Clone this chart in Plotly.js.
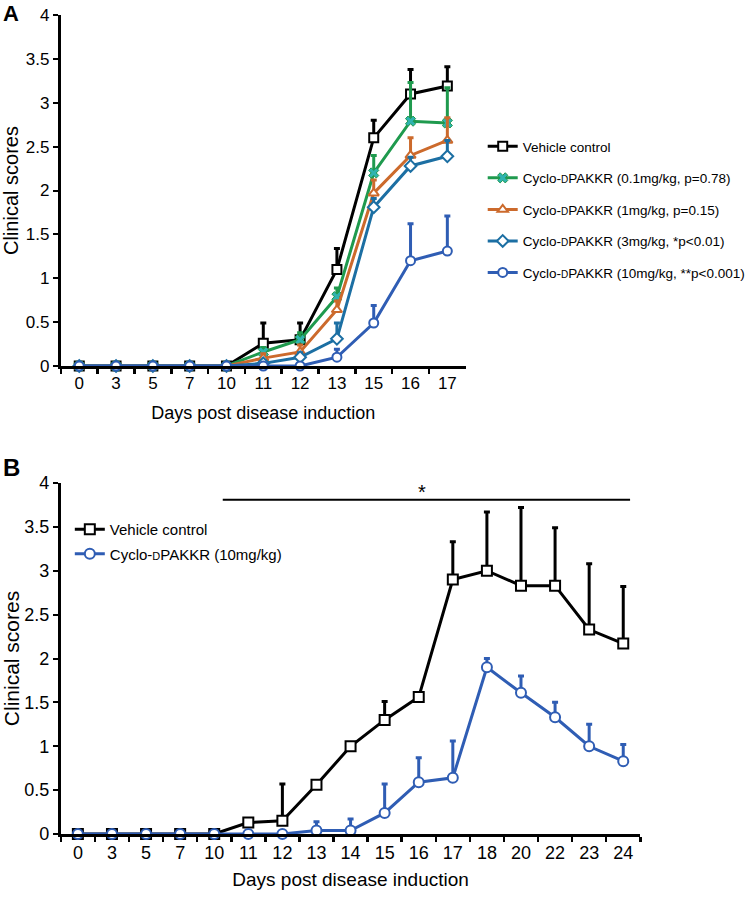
<!DOCTYPE html>
<html>
<head>
<meta charset="utf-8">
<script src="https://cdn.plot.ly/plotly-3.0.1.min.js"></script>
<style>html,body{margin:0;padding:0;background:#fff;}#chart{width:750px;height:902px;}</style>
</head>
<body>
<div id="chart"></div>
<script>
// ---- Panel A data ----
const daysA = ['0','3','5','7','10','11','12','13','15','16','17'];
const vehicleA = [0,0,0,0,0,0.26,0.30,1.10,2.60,3.10,3.19];
const vehicleAErr = [0,0,0,0,0,0.23,0.19,0.24,0.20,0.28,0.22];
const dose01A = [0,0,0,0,0,0.16,0.30,0.79,2.20,2.79,2.77];
const dose01AErr = [0,0,0,0,0,0.05,0.08,0.10,0.20,0.44,0.40];
const dose1A = [0,0,0,0,0,0.09,0.16,0.64,1.97,2.40,2.57];
const dose1AErr = [0,0,0,0,0,0.05,0.08,0.10,0.15,0.20,0.26];
const dose3A = [0,0,0,0,0,0.03,0.10,0.31,1.81,2.28,2.39];
const dose3AErr = [0,0,0,0,0,0.02,0.05,0.18,0.10,0.10,0.18];
const dose10A = [0,0,0,0,0,0,0,0.10,0.49,1.20,1.31];
const dose10AErr = [0,0,0,0,0,0,0,0.09,0.20,0.42,0.40];
const namesA = [
  'Vehicle control',
  "Cyclo-<span style='font-size:10px'>D</span>PAKKR (0.1mg/kg, p=0.78)",
  "Cyclo-<span style='font-size:10px'>D</span>PAKKR (1mg/kg, p=0.15)",
  "Cyclo-<span style='font-size:10px'>D</span>PAKKR (3mg/kg, *p<0.01)",
  "Cyclo-<span style='font-size:10px'>D</span>PAKKR (10mg/kg, **p<0.001)"
];

// ---- Panel B data ----
const daysB = ['0','3','5','7','10','11','12','13','14','15','16','17','18','20','22','23','24'];
const vehicleB = [0,0,0,0,0,0.13,0.15,0.56,1.00,1.30,1.56,2.90,3.00,2.83,2.83,2.33,2.17];
const vehicleBErr = [0,0,0,0,0,0,0.42,0,0,0.21,0,0.43,0.67,0.89,0.66,0.75,0.65];
const dose10B = [0,0,0,0,0,0,0,0.04,0.04,0.24,0.59,0.64,1.90,1.61,1.33,1.00,0.83];
const dose10BErr = [0,0,0,0,0,0,0,0.10,0.13,0.33,0.28,0.42,0.10,0.19,0.17,0.25,0.19];
const namesB = ['Vehicle control', "Cyclo-<span style='font-size:11px'>D</span>PAKKR (10mg/kg)"];

const FONT = 'Liberation Sans, Arial, sans-serif';
const zeros = n => new Array(n).fill(0);

function tr(x, y, err, name, color, symbol, fill, xa, ya, leg, grp, lineColor, size, lw) {
  return {
    x: x, y: y, name: name, type: 'scatter', mode: 'lines+markers',
    xaxis: xa, yaxis: ya, legend: leg, legendgroup: grp,
    line: {color: color, width: 3},
    marker: {symbol: symbol, size: size || 9, color: fill, line: {color: lineColor || color, width: lw || 2}},
    error_y: {type: 'data', symmetric: false, array: err, arrayminus: zeros(err.length),
              color: color, thickness: 3, width: 3},
    cliponaxis: false
  };
}

const data = [
  tr(daysA, vehicleA, vehicleAErr, namesA[0], '#000000', 'square', '#ffffff', 'x', 'y', 'legend', 'a0'),
  tr(daysA, dose01A, dose01AErr, namesA[1], '#1f9a4e', 'x', '#2fb3b0', 'x', 'y', 'legend', 'a1', '#1f9a4e', 9, 1),
  tr(daysA, dose1A, dose1AErr, namesA[2], '#cc6a2c', 'triangle-up', '#ffffff', 'x', 'y', 'legend', 'a2'),
  tr(daysA, dose3A, dose3AErr, namesA[3], '#1c6fa3', 'diamond', '#ffffff', 'x', 'y', 'legend', 'a3'),
  tr(daysA, dose10A, dose10AErr, namesA[4], '#2f5db4', 'circle', '#ffffff', 'x', 'y', 'legend', 'a4'),
  tr(daysB, vehicleB, vehicleBErr, namesB[0], '#000000', 'square', '#ffffff', 'x2', 'y2', 'legend2', 'b0', null, 10),
  tr(daysB, dose10B, dose10BErr, namesB[1], '#2f5db4', 'circle', '#ffffff', 'x2', 'y2', 'legend2', 'b1', null, 10)
];

const W = 750, H = 902;
const yAxisCommon = {
  range: [0, 4], dtick: 0.5, showline: true, linewidth: 3, linecolor: '#000',
  ticks: 'outside', ticklen: 5, tickwidth: 2, tickcolor: '#000',
  showgrid: false, zeroline: false, automargin: false,
  tickfont: {family: FONT, size: 17, color: '#000'}
};
const xAxisCommon = {
  type: 'category', showline: true, linewidth: 3, linecolor: '#000',
  ticks: 'outside', tickson: 'boundaries', ticklen: 5, tickwidth: 2.5, tickcolor: '#000',
  showgrid: false, zeroline: false, automargin: false,
  tickfont: {family: FONT, size: 17, color: '#000'}
};

const layout = {
  width: W, height: H,
  margin: {l: 0, r: 0, t: 0, b: 0},
  paper_bgcolor: '#fff', plot_bgcolor: '#fff',
  font: {family: FONT, color: '#000'},
  xaxis: Object.assign({}, xAxisCommon, {
    domain: [61/W, 467/W], anchor: 'y', range: [-0.5, daysA.length - 0.5],
    title: {text: 'Days post disease induction', font: {family: FONT, size: 18}, standoff: 14}
  }),
  yaxis: Object.assign({}, yAxisCommon, {
    domain: [1 - 366/H, 1 - 15/H], anchor: 'x',
    title: {text: 'Clinical scores', font: {family: FONT, size: 20}, standoff: 4}
  }),
  xaxis2: Object.assign({}, xAxisCommon, {
    domain: [61/W, 642/W], anchor: 'y2', range: [-0.5, daysB.length - 0.5],
    tickfont: {family: FONT, size: 18, color: '#000'},
    title: {text: 'Days post disease induction', font: {family: FONT, size: 19}, standoff: 12}
  }),
  yaxis2: Object.assign({}, yAxisCommon, {
    domain: [1 - 834/H, 1 - 483/H], anchor: 'x2',
    tickfont: {family: FONT, size: 18, color: '#000'},
    title: {text: 'Clinical scores', font: {family: FONT, size: 21}, standoff: 4}
  }),
  legend: {
    x: 484/W, y: 1 - 131/H, xanchor: 'left', yanchor: 'top',
    font: {family: FONT, size: 13.5, color: '#000'},
    bgcolor: 'rgba(0,0,0,0)', tracegroupgap: 11, traceorder: 'grouped',
    itemwidth: 30
  },
  legend2: {
    x: 70/W, y: 1 - 513/H, xanchor: 'left', yanchor: 'top',
    font: {family: FONT, size: 15, color: '#000'},
    bgcolor: 'rgba(0,0,0,0)', tracegroupgap: 2, traceorder: 'grouped',
    itemwidth: 30
  },
  showlegend: true,
  shapes: [
    {type: 'line', xref: 'x2', yref: 'y2', x0: 4.25, x1: 16.2, y0: 3.81, y1: 3.81,
     line: {color: '#000', width: 2}}
  ],
  annotations: [
    {text: '<b>A</b>', xref: 'paper', yref: 'paper', x: 11/W, y: 1 - 14/H,
     xanchor: 'center', yanchor: 'middle',
     showarrow: false, font: {family: FONT, size: 22, color: '#000'}},
    {text: '<b>B</b>', xref: 'paper', yref: 'paper', x: 12/W, y: 1 - 468/H,
     xanchor: 'center', yanchor: 'middle',
     showarrow: false, font: {family: FONT, size: 24, color: '#000'}},
    {text: '*', xref: 'x2', yref: 'y2', x: 10.1, y: 3.9,
     showarrow: false, font: {family: FONT, size: 20, color: '#000'}}
  ]
};

Plotly.newPlot('chart', data, layout, {displayModeBar: false, staticPlot: true});
</script>
</body>
</html>
